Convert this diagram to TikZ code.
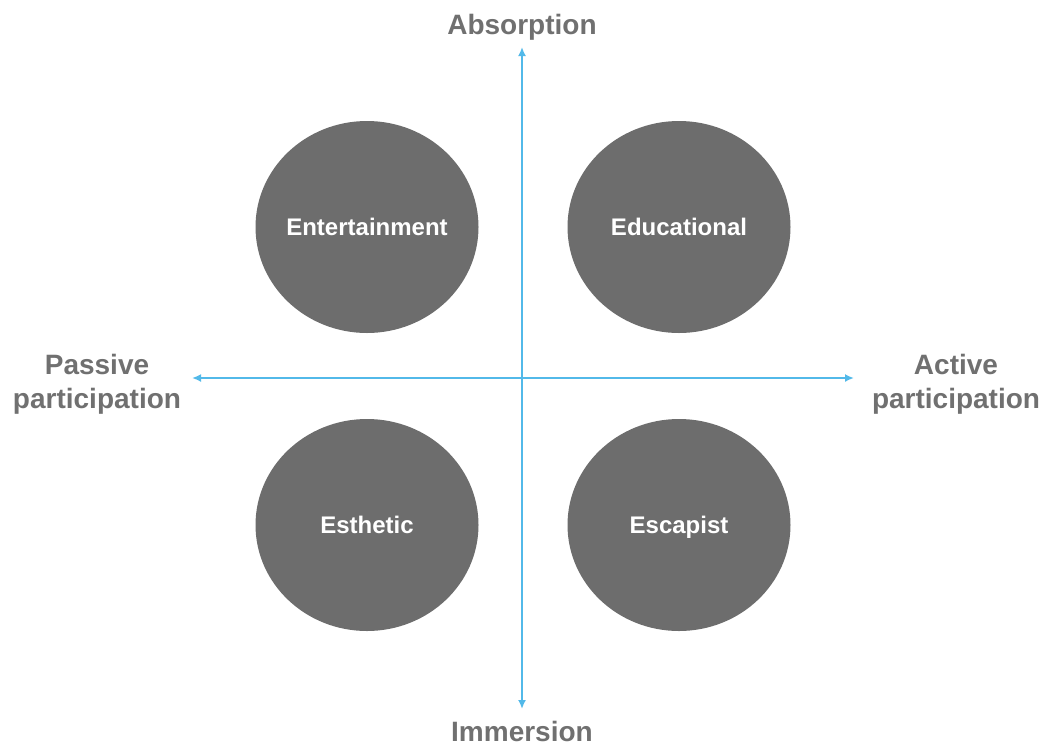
\documentclass[tikz,border=0pt]{standalone}
\usepackage{fontspec}
\setmainfont{Liberation Sans}
\usetikzlibrary{arrows.meta,shapes.geometric}
\definecolor{circ}{HTML}{6D6D6D}
\definecolor{lbl}{HTML}{707070}
\definecolor{axis}{HTML}{52B9E9}
\begin{document}
\begin{tikzpicture}[x=1pt,y=-1pt,
  quad/.style={ellipse,fill=circ,minimum width=223pt,minimum height=212pt,inner sep=0pt},
  quadtext/.style={text=white,font=\fontsize{24}{28}\selectfont\bfseries,text height=17pt,text depth=3pt,inner sep=0pt},
  axlabel/.style={text=lbl,font=\fontsize{28}{34}\selectfont\bfseries,align=center,inner sep=0pt},
  axline/.style={draw=axis,line width=2pt,-{Latex[length=9pt,width=8pt]}}]
\useasboundingbox (0,0) rectangle (1046,745);
\node[quad] (ent) at (367,227) {};
\node[quad] (edu) at (679,227) {};
\node[quad] (est) at (367,525) {};
\node[quad] (esc) at (679,525) {};
\node[quadtext] (entt) at ([yshift=-1.5pt]ent.center) {Entertainment};
\node[quadtext] (edut) at ([yshift=-1.5pt]edu.center) {Educational};
\node[quadtext] (estt) at ([yshift=-1.5pt]est.center) {Esthetic};
\node[quadtext] (esct) at ([yshift=-1.5pt]esc.center) {Escapist};
\coordinate (c) at (522,378);
\coordinate (top) at (522,47);
\coordinate (bot) at (522,709);
\coordinate (lft) at (192,378);
\coordinate (rgt) at (854,378);
\draw[axline] (c) -- (top);
\draw[axline] (c) -- (bot);
\draw[axline] (c) -- (lft);
\draw[axline] (c) -- (rgt);
\node[axlabel] (abs) at (522,27) {Absorption};
\node[axlabel] (imm) at (522,731) {Immersion};
\node[axlabel] (pas) at (97,384) {Passive\\participation};
\node[axlabel] (act) at (956,384) {Active\\participation};
\end{tikzpicture}
\end{document}
